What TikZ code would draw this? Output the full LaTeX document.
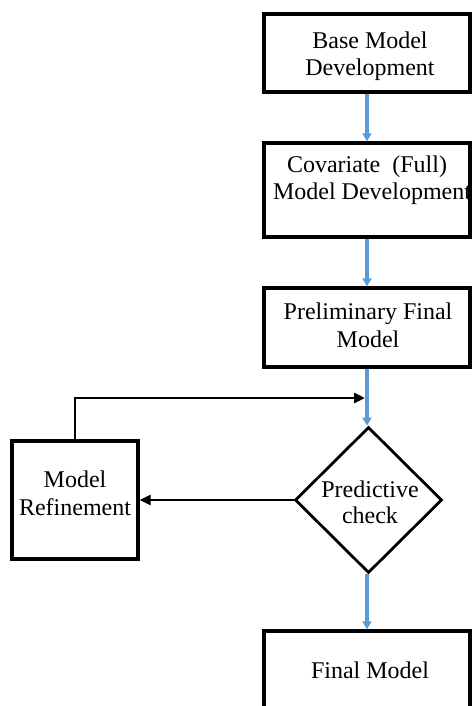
\documentclass[tikz,border=0pt]{standalone}
\usepackage{fontspec}
\setmainfont{Liberation Serif}
\usetikzlibrary{arrows.meta,shapes.geometric}
\definecolor{flowblue}{RGB}{91,155,213}
\begin{document}
\begin{tikzpicture}[x=1pt,y=-1pt,
  stepbox/.style={draw=black,line width=3.4pt,rectangle,inner sep=0pt,minimum width=206pt},
  decbox/.style={draw=black,line width=2.8pt,diamond,inner sep=0pt,aspect=1,minimum width=147pt,minimum height=146pt},
  txt/.style={inner sep=0pt,anchor=base,font=\fontsize{24}{27.5}\selectfont},
  bluearrow/.style={draw=flowblue,line width=3.2pt,-{Triangle[width=9pt,length=8pt]}},
  blackarrow/.style={draw=black,line width=2.8pt,-{Triangle[width=10pt,length=11pt]}}]
\useasboundingbox (0,0) rectangle (471,706);
\fill[white] (0,0) rectangle (471,706);
% boxes
\node[stepbox,minimum height=78pt] (b1) at (367,53) {};
\node[stepbox,minimum height=94pt] (b2) at (367,190) {};
\node[stepbox,minimum height=79pt] (b3) at (367,327.5) {};
\node[decbox] (d) at (368.5,500) {};
\node[draw=black,line width=3.4pt,rectangle,inner sep=0pt,minimum width=126pt,minimum height=118pt] (r) at (75,500) {};
\node[stepbox,minimum height=130pt] (f) at (367,696) {};
% texts
\node[txt] (t1a) at (370,49) {Base Model};
\node[txt] (t1b) at (370,76) {Development};
\node[txt] (t2a) at (367,172) {Covariate\ \ (Full)};
\node[txt] (t2b) at (372,199) {Model Development};
\node[txt] (t3a) at (368,319) {Preliminary Final};
\node[txt] (t3b) at (368,347) {Model};
\node[txt] (tra) at (75,487) {Model};
\node[txt] (trb) at (75,515) {Refinement};
\node[txt] (tda) at (370,497) {Predictive};
\node[txt] (tdb) at (370,523) {check};
\node[txt] (tf) at (370,678) {Final Model};
% connectors
\coordinate (j) at (367,398);
\draw[bluearrow] (b1.south) -- (b2.north);
\draw[bluearrow] (b2.south) -- (b3.north);
\draw[bluearrow] (b3.south) -- (b3.south |- d.north);
\draw[bluearrow] (d.south -| f.north) -- (f.north);
\draw[blackarrow] (d.west) -- (r.east);
\draw[blackarrow] (r.north) -- (r.north |- j) -- ([xshift=-2pt]j);
\end{tikzpicture}
\end{document}
